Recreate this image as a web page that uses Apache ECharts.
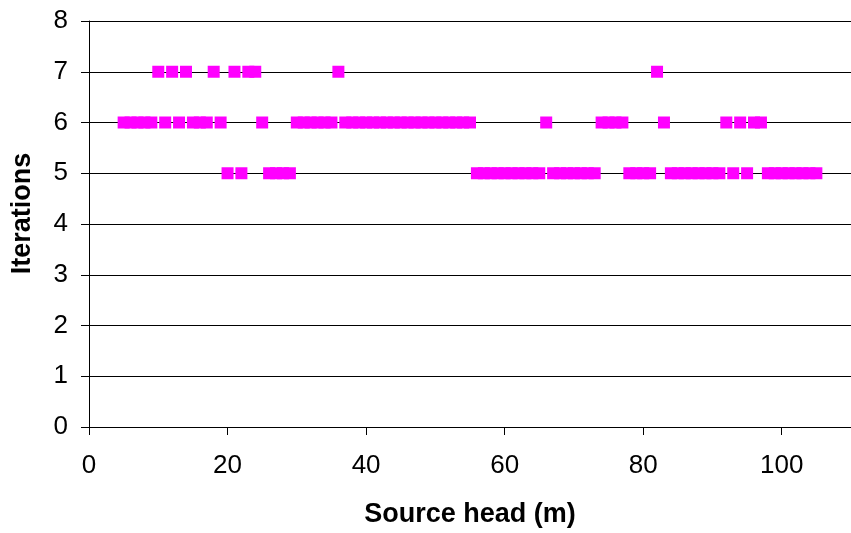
<!DOCTYPE html>
<html>
<head>
<meta charset="utf-8">
<script src="https://cdn.jsdelivr.net/npm/echarts@6/dist/echarts.min.js"></script>
<style>
  html, body { margin: 0; padding: 0; background: #fff; }
  #chart { width: 851px; height: 533px; }
</style>
</head>
<body>
<div id="chart"></div>
<script>
// Source head (m) for each run
const sourceHead = [];
for (let h = 5; h <= 105; h++) sourceHead.push(h);

// Iterations needed at each source head, 5 m .. 105 m
const iterations = [
  6, 6, 6, 6, 6,          // 5-9
  7, 6, 7, 6, 7,          // 10-14
  6, 6, 6, 7, 6,          // 15-19
  5, 7, 5, 7, 7,          // 20-24
  6, 5, 5, 5, 5,          // 25-29
  6, 6, 6, 6, 6, 6,       // 30-35
  7,                      // 36
  6, 6, 6, 6, 6, 6, 6, 6, 6, 6, 6, 6, 6, 6, 6, 6, 6, 6, 6, // 37-55
  5, 5, 5, 5, 5, 5, 5, 5, 5, 5, // 56-65
  6,                      // 66
  5, 5, 5, 5, 5, 5, 5,    // 67-73
  6, 6, 6, 6,             // 74-77
  5, 5, 5, 5,             // 78-81
  7, 6,                   // 82-83
  5, 5, 5, 5, 5, 5, 5, 5, // 84-91
  6, 5, 6, 5, 6, 6,       // 92-97
  5, 5, 5, 5, 5, 5, 5, 5  // 98-105
];

const xTicks = [0, 20, 40, 60, 80, 100];
const yTicks = [0, 1, 2, 3, 4, 5, 6, 7, 8];

const points = sourceHead.map((h, i) => [h, iterations[i]]);

const chart = echarts.init(document.getElementById('chart'), null, { renderer: 'canvas' });
const font = '"Liberation Sans", Arial, sans-serif';

chart.setOption({
  animation: false,
  backgroundColor: '#ffffff',
  grid: { left: 89, right: -11, top: 21, bottom: 105, containLabel: false },
  xAxis: {
    type: 'value',
    min: 0, max: 110, interval: 20,
    name: 'Source head (m)',
    nameLocation: 'middle',
    nameGap: 74,
    nameTextStyle: { fontFamily: font, fontSize: 27, fontWeight: 'bold', color: '#000' },
    axisLine: { show: true, onZero: false, lineStyle: { color: '#000', width: 1 } },
    axisTick: { show: true, inside: false, length: 8, lineStyle: { color: '#000' } },
    axisLabel: {
      fontFamily: font, fontSize: 26, color: '#000', margin: 26,
      showMaxLabel: false,
      formatter: v => (xTicks.includes(v) ? String(v) : '')
    },
    splitLine: { show: false }
  },
  yAxis: {
    type: 'value',
    min: 0, max: 8, interval: 1,
    name: 'Iterations',
    nameLocation: 'middle',
    nameGap: 53,
    nameRotate: 90,
    nameTextStyle: {
      fontFamily: font, fontSize: 27, fontWeight: 'bold', color: '#000',
      padding: [0, 0, 0, 21]
    },
    axisLine: { show: true, lineStyle: { color: '#000', width: 1 } },
    axisTick: { show: true, inside: false, length: 8, lineStyle: { color: '#000' } },
    axisLabel: {
      fontFamily: font, fontSize: 26, color: '#000', margin: 21,
      formatter: v => (yTicks.includes(v) ? String(v) : '')
    },
    splitLine: { show: true, lineStyle: { color: '#000', width: 1 } }
  },
  series: [{
    type: 'scatter',
    data: points,
    symbol: 'rect',
    symbolSize: 12,
    itemStyle: { color: '#ff00ff', opacity: 1 },
    clip: false
  }]
});
</script>
</body>
</html>
